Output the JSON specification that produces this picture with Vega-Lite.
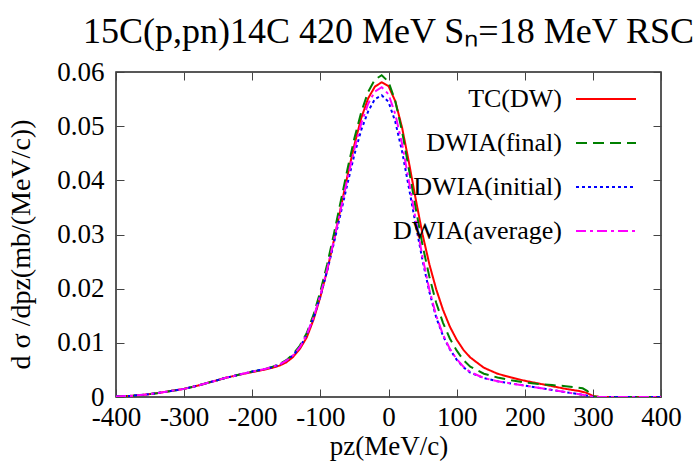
{
  "$schema": "https://vega.github.io/schema/vega-lite/v6.json",
  "width": 545,
  "height": 325,
  "autosize": "none",
  "padding": {"left": 116, "top": 72, "right": 32, "bottom": 65},
  "background": "white",
  "title": {"text": "15C(p,pn)14C 420 MeV Sₙ=18 MeV RSC", "font": "Liberation Serif, Times New Roman, serif", "fontSize": 36, "fontWeight": "normal", "color": "black", "anchor": "middle", "baseline": "alphabetic", "offset": -21},
  "config": {
    "view": {"stroke": "#222", "strokeWidth": 1.5},
    "axis": {"labelFont": "Liberation Serif, Times New Roman, serif", "labelFontSize": 27, "labelColor": "black", "titleFont": "Liberation Serif, Times New Roman, serif", "titleFontSize": 28, "titleFontWeight": "normal", "titleColor": "black", "domain": false, "grid": false, "tickColor": "#444", "tickWidth": 1, "tickSize": -8}
  },
  "data": {"values": [
    {"s":"TC(DW)","p":-400,"v":0.0001},{"s":"TC(DW)","p":-380,"v":0.0002},{"s":"TC(DW)","p":-360,"v":0.0004},{"s":"TC(DW)","p":-340,"v":0.0007},{"s":"TC(DW)","p":-320,"v":0.0011},{"s":"TC(DW)","p":-300,"v":0.0015},{"s":"TC(DW)","p":-280,"v":0.0021},{"s":"TC(DW)","p":-260,"v":0.0028},{"s":"TC(DW)","p":-240,"v":0.0035},{"s":"TC(DW)","p":-220,"v":0.0041},{"s":"TC(DW)","p":-200,"v":0.0046},{"s":"TC(DW)","p":-180,"v":0.0051},{"s":"TC(DW)","p":-170,"v":0.0054},{"s":"TC(DW)","p":-160,"v":0.0058},{"s":"TC(DW)","p":-150,"v":0.0064},{"s":"TC(DW)","p":-140,"v":0.0074},{"s":"TC(DW)","p":-130,"v":0.0089},{"s":"TC(DW)","p":-120,"v":0.0110},{"s":"TC(DW)","p":-110,"v":0.0143},{"s":"TC(DW)","p":-100,"v":0.0185},{"s":"TC(DW)","p":-90,"v":0.0234},{"s":"TC(DW)","p":-80,"v":0.0290},{"s":"TC(DW)","p":-70,"v":0.0350},{"s":"TC(DW)","p":-60,"v":0.0410},{"s":"TC(DW)","p":-50,"v":0.0466},{"s":"TC(DW)","p":-40,"v":0.0515},{"s":"TC(DW)","p":-30,"v":0.0551},{"s":"TC(DW)","p":-20,"v":0.0573},{"s":"TC(DW)","p":-10,"v":0.0581},{"s":"TC(DW)","p":0,"v":0.0574},{"s":"TC(DW)","p":10,"v":0.0546},{"s":"TC(DW)","p":20,"v":0.0497},{"s":"TC(DW)","p":30,"v":0.0433},{"s":"TC(DW)","p":40,"v":0.0365},{"s":"TC(DW)","p":50,"v":0.0300},{"s":"TC(DW)","p":60,"v":0.0245},{"s":"TC(DW)","p":70,"v":0.0199},{"s":"TC(DW)","p":80,"v":0.0161},{"s":"TC(DW)","p":90,"v":0.0130},{"s":"TC(DW)","p":100,"v":0.0106},{"s":"TC(DW)","p":110,"v":0.0087},{"s":"TC(DW)","p":120,"v":0.0073},{"s":"TC(DW)","p":140,"v":0.0054},{"s":"TC(DW)","p":160,"v":0.0043},{"s":"TC(DW)","p":180,"v":0.0036},{"s":"TC(DW)","p":200,"v":0.0030},{"s":"TC(DW)","p":220,"v":0.0025},{"s":"TC(DW)","p":240,"v":0.0020},{"s":"TC(DW)","p":260,"v":0.0015},{"s":"TC(DW)","p":280,"v":0.0011},{"s":"TC(DW)","p":290,"v":0.0008},{"s":"TC(DW)","p":300,"v":0.0002},{"s":"TC(DW)","p":310,"v":0.0},{"s":"TC(DW)","p":340,"v":0.0},{"s":"TC(DW)","p":370,"v":0.0},{"s":"TC(DW)","p":400,"v":0.0},

    {"s":"DWIA(final)","p":-400,"v":0.0001},{"s":"DWIA(final)","p":-380,"v":0.0002},{"s":"DWIA(final)","p":-360,"v":0.0004},{"s":"DWIA(final)","p":-340,"v":0.0007},{"s":"DWIA(final)","p":-320,"v":0.0011},{"s":"DWIA(final)","p":-300,"v":0.0015},{"s":"DWIA(final)","p":-280,"v":0.0021},{"s":"DWIA(final)","p":-260,"v":0.0028},{"s":"DWIA(final)","p":-240,"v":0.0035},{"s":"DWIA(final)","p":-220,"v":0.0041},{"s":"DWIA(final)","p":-200,"v":0.0047},{"s":"DWIA(final)","p":-180,"v":0.0052},{"s":"DWIA(final)","p":-170,"v":0.0056},{"s":"DWIA(final)","p":-160,"v":0.0061},{"s":"DWIA(final)","p":-150,"v":0.0068},{"s":"DWIA(final)","p":-140,"v":0.0079},{"s":"DWIA(final)","p":-130,"v":0.0095},{"s":"DWIA(final)","p":-120,"v":0.0118},{"s":"DWIA(final)","p":-110,"v":0.0152},{"s":"DWIA(final)","p":-100,"v":0.0195},{"s":"DWIA(final)","p":-90,"v":0.0245},{"s":"DWIA(final)","p":-80,"v":0.0302},{"s":"DWIA(final)","p":-70,"v":0.0362},{"s":"DWIA(final)","p":-60,"v":0.0422},{"s":"DWIA(final)","p":-50,"v":0.0478},{"s":"DWIA(final)","p":-40,"v":0.0526},{"s":"DWIA(final)","p":-30,"v":0.0563},{"s":"DWIA(final)","p":-20,"v":0.0586},{"s":"DWIA(final)","p":-10,"v":0.0594},{"s":"DWIA(final)","p":0,"v":0.0582},{"s":"DWIA(final)","p":10,"v":0.0546},{"s":"DWIA(final)","p":20,"v":0.0490},{"s":"DWIA(final)","p":30,"v":0.0420},{"s":"DWIA(final)","p":40,"v":0.0348},{"s":"DWIA(final)","p":50,"v":0.0280},{"s":"DWIA(final)","p":60,"v":0.0222},{"s":"DWIA(final)","p":70,"v":0.0174},{"s":"DWIA(final)","p":80,"v":0.0137},{"s":"DWIA(final)","p":90,"v":0.0108},{"s":"DWIA(final)","p":100,"v":0.0086},{"s":"DWIA(final)","p":110,"v":0.0068},{"s":"DWIA(final)","p":120,"v":0.0056},{"s":"DWIA(final)","p":140,"v":0.0043},{"s":"DWIA(final)","p":160,"v":0.0036},{"s":"DWIA(final)","p":180,"v":0.0031},{"s":"DWIA(final)","p":200,"v":0.0027},{"s":"DWIA(final)","p":220,"v":0.0024},{"s":"DWIA(final)","p":240,"v":0.0022},{"s":"DWIA(final)","p":260,"v":0.0020},{"s":"DWIA(final)","p":275,"v":0.0018},{"s":"DWIA(final)","p":285,"v":0.0016},{"s":"DWIA(final)","p":292,"v":0.0011},{"s":"DWIA(final)","p":297,"v":0.0004},{"s":"DWIA(final)","p":300,"v":0.0001},{"s":"DWIA(final)","p":310,"v":0.0},{"s":"DWIA(final)","p":340,"v":0.0},{"s":"DWIA(final)","p":370,"v":0.0},{"s":"DWIA(final)","p":400,"v":0.0},

    {"s":"DWIA(initial)","p":-400,"v":0.0001},{"s":"DWIA(initial)","p":-380,"v":0.0002},{"s":"DWIA(initial)","p":-360,"v":0.0004},{"s":"DWIA(initial)","p":-340,"v":0.0007},{"s":"DWIA(initial)","p":-320,"v":0.0011},{"s":"DWIA(initial)","p":-300,"v":0.0015},{"s":"DWIA(initial)","p":-280,"v":0.0021},{"s":"DWIA(initial)","p":-260,"v":0.0028},{"s":"DWIA(initial)","p":-240,"v":0.0035},{"s":"DWIA(initial)","p":-220,"v":0.0041},{"s":"DWIA(initial)","p":-200,"v":0.0047},{"s":"DWIA(initial)","p":-180,"v":0.0052},{"s":"DWIA(initial)","p":-170,"v":0.0055},{"s":"DWIA(initial)","p":-160,"v":0.0060},{"s":"DWIA(initial)","p":-150,"v":0.0067},{"s":"DWIA(initial)","p":-140,"v":0.0077},{"s":"DWIA(initial)","p":-130,"v":0.0092},{"s":"DWIA(initial)","p":-120,"v":0.0115},{"s":"DWIA(initial)","p":-110,"v":0.0146},{"s":"DWIA(initial)","p":-100,"v":0.0186},{"s":"DWIA(initial)","p":-90,"v":0.0233},{"s":"DWIA(initial)","p":-80,"v":0.0285},{"s":"DWIA(initial)","p":-70,"v":0.0340},{"s":"DWIA(initial)","p":-60,"v":0.0395},{"s":"DWIA(initial)","p":-50,"v":0.0448},{"s":"DWIA(initial)","p":-40,"v":0.0493},{"s":"DWIA(initial)","p":-30,"v":0.0527},{"s":"DWIA(initial)","p":-20,"v":0.0550},{"s":"DWIA(initial)","p":-10,"v":0.0557},{"s":"DWIA(initial)","p":0,"v":0.0545},{"s":"DWIA(initial)","p":10,"v":0.0508},{"s":"DWIA(initial)","p":20,"v":0.0453},{"s":"DWIA(initial)","p":30,"v":0.0386},{"s":"DWIA(initial)","p":40,"v":0.0318},{"s":"DWIA(initial)","p":50,"v":0.0252},{"s":"DWIA(initial)","p":60,"v":0.0194},{"s":"DWIA(initial)","p":70,"v":0.0147},{"s":"DWIA(initial)","p":80,"v":0.0113},{"s":"DWIA(initial)","p":90,"v":0.0088},{"s":"DWIA(initial)","p":100,"v":0.0069},{"s":"DWIA(initial)","p":110,"v":0.0055},{"s":"DWIA(initial)","p":120,"v":0.0045},{"s":"DWIA(initial)","p":140,"v":0.0035},{"s":"DWIA(initial)","p":160,"v":0.0029},{"s":"DWIA(initial)","p":180,"v":0.0025},{"s":"DWIA(initial)","p":200,"v":0.0021},{"s":"DWIA(initial)","p":220,"v":0.0017},{"s":"DWIA(initial)","p":240,"v":0.0013},{"s":"DWIA(initial)","p":260,"v":0.0009},{"s":"DWIA(initial)","p":280,"v":0.0005},{"s":"DWIA(initial)","p":290,"v":0.0003},{"s":"DWIA(initial)","p":300,"v":0.0},{"s":"DWIA(initial)","p":340,"v":0.0},{"s":"DWIA(initial)","p":370,"v":0.0},{"s":"DWIA(initial)","p":400,"v":0.0},

    {"s":"DWIA(average)","p":-400,"v":0.0001},{"s":"DWIA(average)","p":-380,"v":0.0002},{"s":"DWIA(average)","p":-360,"v":0.0004},{"s":"DWIA(average)","p":-340,"v":0.0007},{"s":"DWIA(average)","p":-320,"v":0.0011},{"s":"DWIA(average)","p":-300,"v":0.0015},{"s":"DWIA(average)","p":-280,"v":0.0021},{"s":"DWIA(average)","p":-260,"v":0.0028},{"s":"DWIA(average)","p":-240,"v":0.0035},{"s":"DWIA(average)","p":-220,"v":0.0041},{"s":"DWIA(average)","p":-200,"v":0.0047},{"s":"DWIA(average)","p":-180,"v":0.0052},{"s":"DWIA(average)","p":-170,"v":0.0056},{"s":"DWIA(average)","p":-160,"v":0.0060},{"s":"DWIA(average)","p":-150,"v":0.0067},{"s":"DWIA(average)","p":-140,"v":0.0077},{"s":"DWIA(average)","p":-130,"v":0.0092},{"s":"DWIA(average)","p":-120,"v":0.0115},{"s":"DWIA(average)","p":-110,"v":0.0147},{"s":"DWIA(average)","p":-100,"v":0.0188},{"s":"DWIA(average)","p":-90,"v":0.0236},{"s":"DWIA(average)","p":-80,"v":0.0290},{"s":"DWIA(average)","p":-70,"v":0.0347},{"s":"DWIA(average)","p":-60,"v":0.0404},{"s":"DWIA(average)","p":-50,"v":0.0458},{"s":"DWIA(average)","p":-40,"v":0.0505},{"s":"DWIA(average)","p":-30,"v":0.0541},{"s":"DWIA(average)","p":-20,"v":0.0564},{"s":"DWIA(average)","p":-10,"v":0.0572},{"s":"DWIA(average)","p":0,"v":0.0559},{"s":"DWIA(average)","p":10,"v":0.0522},{"s":"DWIA(average)","p":20,"v":0.0467},{"s":"DWIA(average)","p":30,"v":0.0398},{"s":"DWIA(average)","p":40,"v":0.0327},{"s":"DWIA(average)","p":50,"v":0.0258},{"s":"DWIA(average)","p":60,"v":0.0198},{"s":"DWIA(average)","p":70,"v":0.0150},{"s":"DWIA(average)","p":80,"v":0.0115},{"s":"DWIA(average)","p":90,"v":0.0089},{"s":"DWIA(average)","p":100,"v":0.0070},{"s":"DWIA(average)","p":110,"v":0.0056},{"s":"DWIA(average)","p":120,"v":0.0046},{"s":"DWIA(average)","p":140,"v":0.0035},{"s":"DWIA(average)","p":160,"v":0.0029},{"s":"DWIA(average)","p":180,"v":0.0025},{"s":"DWIA(average)","p":200,"v":0.0021},{"s":"DWIA(average)","p":220,"v":0.0017},{"s":"DWIA(average)","p":240,"v":0.0013},{"s":"DWIA(average)","p":260,"v":0.0009},{"s":"DWIA(average)","p":280,"v":0.0005},{"s":"DWIA(average)","p":290,"v":0.0003},{"s":"DWIA(average)","p":300,"v":0.0},{"s":"DWIA(average)","p":340,"v":0.0},{"s":"DWIA(average)","p":370,"v":0.0},{"s":"DWIA(average)","p":400,"v":0.0}
  ]},
  "layer": [
    {
      "mark": {"type": "line", "strokeWidth": 2, "clip": true},
      "encoding": {
        "x": {"field": "p", "type": "quantitative", "scale": {"domain": [-400, 400], "nice": false},
              "axis": {"orient": "bottom", "values": [-400,-300,-200,-100,0,100,200,300,400], "labelExpr": "'' + datum.value", "labelPadding": 15, "title": "pz(MeV/c)", "titlePadding": 3, "titleFontSize": 27, "labelFlush": false}},
        "y": {"field": "v", "type": "quantitative", "scale": {"domain": [0, 0.06], "nice": false, "zero": false},
              "axis": {"orient": "left", "values": [0,0.01,0.02,0.03,0.04,0.05,0.06], "labelExpr": "datum.value == 0 ? '0' : format(datum.value, '.2f')", "labelPadding": 20, "title": "d σ /dpz(mb/(MeV/c))", "titlePadding": 21, "titleY": 172, "labelFlush": false}},
        "color": {"field": "s", "type": "nominal", "sort": null,
                  "scale": {"domain": ["TC(DW)", "DWIA(final)", "DWIA(initial)", "DWIA(average)"], "range": ["#ff0000", "#008000", "#0000ff", "#ff00ff"]},
                  "legend": {"title": null, "orient": "none", "legendX": 459, "legendY": -4, "symbolType": "stroke", "symbolSize": 3600, "symbolStrokeWidth": 2, "labelFont": "Liberation Serif, Times New Roman, serif", "labelFontSize": 26, "labelColor": "black", "labelAlign": "right", "labelOffset": -75, "labelLimit": 300, "rowPadding": -18.5, "padding": 0}},
        "strokeDash": {"field": "s", "type": "nominal", "sort": null,
                  "scale": {"domain": ["TC(DW)", "DWIA(final)", "DWIA(initial)", "DWIA(average)"], "range": [[1, 0], [11, 6], [3, 3], [10, 4, 3, 4]]},
                  "legend": {"title": null, "orient": "none", "legendX": 459, "legendY": -4, "symbolType": "stroke", "symbolSize": 3600, "symbolStrokeWidth": 2, "labelFont": "Liberation Serif, Times New Roman, serif", "labelFontSize": 26, "labelColor": "black", "labelAlign": "right", "labelOffset": -75, "labelLimit": 300, "rowPadding": -18.5, "padding": 0}},
        "order": {"field": "p", "type": "quantitative"}
      }
    },
    {
      "mark": {"type": "point", "opacity": 0},
      "encoding": {
        "x": {"field": "p", "type": "quantitative", "scale": {"domain": [-400, 400], "nice": false},
              "axis": {"orient": "top", "values": [-400,-300,-200,-100,0,100,200,300,400], "labels": false, "title": null}},
        "y": {"field": "v", "type": "quantitative", "scale": {"domain": [0, 0.06], "nice": false, "zero": false},
              "axis": {"orient": "right", "values": [0,0.01,0.02,0.03,0.04,0.05,0.06], "labels": false, "title": null}}
      }
    }
  ],
  "resolve": {"axis": {"x": "independent", "y": "independent"}}
}
